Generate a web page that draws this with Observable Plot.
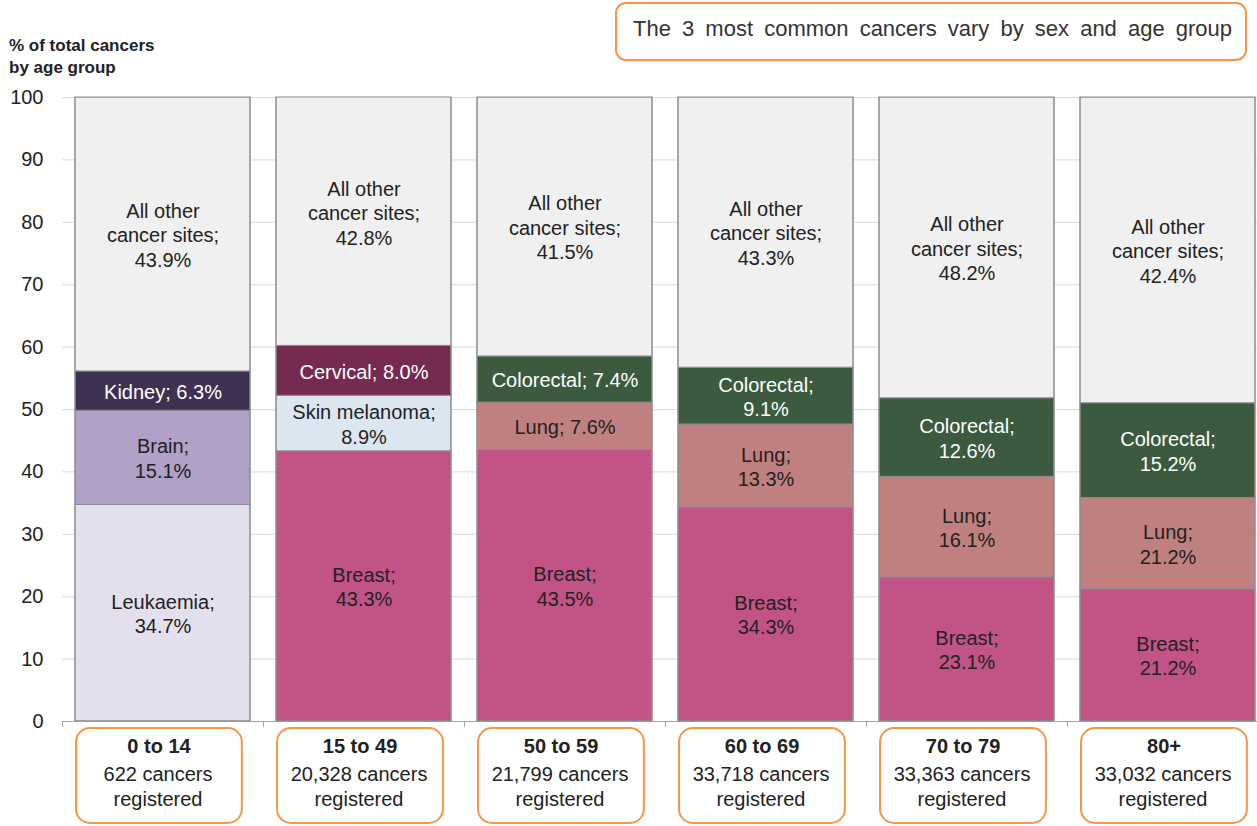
<!DOCTYPE html>
<html>
<head>
<meta charset="utf-8">
<script src="https://cdn.jsdelivr.net/npm/d3@7"></script>
<script src="https://cdn.jsdelivr.net/npm/@observablehq/plot@0.6"></script>
<style>
html, body { margin: 0; padding: 0; background: #fff; overflow: hidden; width: 1257px; height: 826px; }
body { position: relative; font-family: "Liberation Sans", Arial, sans-serif; color: #222; }
#chart { position: absolute; left: 0; top: 0; }
#chart svg { max-width: none !important; }
#ylabel { position: absolute; left: 9px; top: 35px; font-weight: bold; font-size: 17px; line-height: 22px; color: #222; }
#title { position: absolute; left: 615px; top: 2px; width: 632px; height: 59px; box-sizing: border-box;
  border: 2px solid #f79646; border-radius: 11px; font-size: 22px; padding: 12px 0 0 16px; color: #333; word-spacing: 5px; white-space: nowrap; }
</style>
</head>
<body>
<div id="chart"></div>
<div id="ylabel">% of total cancers<br>by age group</div>
<div id="title">The 3 most common cancers vary by sex and age group</div>
<script>
// ---- data ----
const ageGroups = ["0 to 14", "15 to 49", "50 to 59", "60 to 69", "70 to 79", "80+"];
const cancersRegistered = ["622", "20,328", "21,799", "33,718", "33,363", "33,032"];
const siteNames = [
  ["Leukaemia", "Brain", "Kidney", "All other cancer sites"],
  ["Breast", "Skin melanoma", "Cervical", "All other cancer sites"],
  ["Breast", "Lung", "Colorectal", "All other cancer sites"],
  ["Breast", "Lung", "Colorectal", "All other cancer sites"],
  ["Breast", "Lung", "Colorectal", "All other cancer sites"],
  ["Breast", "Lung", "Colorectal", "All other cancer sites"]
];
// percentages printed in the labels
const labelPct = [
  [34.7, 15.1, 6.3, 43.9],
  [43.3, 8.9, 8.0, 42.8],
  [43.5, 7.6, 7.4, 41.5],
  [34.3, 13.3, 9.1, 43.3],
  [23.1, 16.1, 12.6, 48.2],
  [21.2, 21.2, 15.2, 42.4]
];
// segment heights as drawn in the source chart
const barPct = [
  [34.7, 15.1, 6.3, 43.9],
  [43.3, 8.9, 8.0, 42.8],
  [43.5, 7.6, 7.4, 41.5],
  [34.3, 13.3, 9.1, 43.3],
  [23.1, 16.1, 12.6, 48.2],
  [21.2, 14.6, 15.2, 49.0]
];
const yTicks = [0, 10, 20, 30, 40, 50, 60, 70, 80, 90, 100];
const siteColors = {
  "Leukaemia": "#e4dfec",
  "Brain": "#b1a0c7",
  "Kidney": "#3f3151",
  "Breast": "#c25386",
  "Skin melanoma": "#dce6f1",
  "Cervical": "#762a4f",
  "Lung": "#c0807f",
  "Colorectal": "#3c5a3e",
  "All other cancer sites": "#f0f0f0"
};
const lightTextSites = ["Kidney", "Cervical", "Colorectal"];

// ---- build rows ----
const rows = [];
ageGroups.forEach((age, i) => {
  siteNames[i].forEach((site, j) => {
    const p = labelPct[i][j].toFixed(1) + "%";
    let label;
    if (site === "All other cancer sites") label = "All other\ncancer sites;\n" + p;
    else if (barPct[i][j] < 8.5) label = site + "; " + p;
    else label = site + ";\n" + p;
    rows.push({age, site, value: barPct[i][j], label});
  });
});

const FONT = '"Liberation Sans", Arial, sans-serif';

function boundaryTicks(index, scales, values, dimensions) {
  const x = scales.x, y = scales.y;
  const step = x(ageGroups[1]) - x(ageGroups[0]);
  const g = d3.create("svg:g").attr("stroke", "#a6a6a6").attr("stroke-width", 1);
  const y0 = y(0);
  for (let k = 0; k <= ageGroups.length; k++) {
    const px = Math.round(dimensions.marginLeft + k * step) + 0.5;
    g.append("line").attr("x1", px).attr("x2", px).attr("y1", y0).attr("y2", y0 + 6);
  }
  return g.node();
}

function ageBoxes(index, scales, values, dimensions) {
  const x = scales.x, y = scales.y;
  const step = x(ageGroups[1]) - x(ageGroups[0]);
  const bw = step * (1 - 0.13);
  const g = d3.create("svg:g").attr("fill", "#fff").attr("stroke", "#f79646").attr("stroke-width", 2);
  const top = y(0) + 7;
  ageGroups.forEach(a => {
    g.append("rect")
      .attr("x", x(a) + 1).attr("width", bw - 9)
      .attr("y", top).attr("height", dimensions.height - top - 3)
      .attr("rx", 14).attr("ry", 14);
  });
  return g.node();
}

const chart = Plot.plot({
  width: 1268,
  height: 826,
  marginTop: 97,
  marginBottom: 105,
  marginLeft: 62,
  marginRight: 0,
  style: {fontFamily: FONT, fontSize: "20px", color: "#222", background: "transparent", maxWidth: "none"},
  x: {domain: ageGroups, paddingInner: 0.13, paddingOuter: 0.065, axis: null},
  y: {domain: [0, 100], axis: null},
  color: {type: "identity"},
  marks: [
    Plot.gridY(yTicks, {stroke: "#d9d9d9", strokeOpacity: 1}),
    Plot.ruleY([0], {stroke: "#a6a6a6"}),
    boundaryTicks,
    Plot.barY(rows, {x: "age", y: "value", fill: d => siteColors[d.site], stroke: "#8c8c8c", strokeWidth: 1, clip: true}),
    Plot.barY(ageGroups, {x: d => d, y: () => 100, fill: "none", stroke: "#8c8c8c", strokeWidth: 1}),
    Plot.text(rows, Plot.stackY({
      x: "age", y: "value", text: "label",
      fill: d => lightTextSites.includes(d.site) ? "#ffffff" : "#222222",
      fontSize: 20, lineHeight: 1.22
    })),
    Plot.axisY({ticks: yTicks, tickSize: 0, tickPadding: 19, fontSize: 20, label: null, fill: "#222"}),
    ageBoxes,
    Plot.text(ageGroups, {x: d => d, text: d => d, frameAnchor: "bottom", lineAnchor: "middle", dy: 25, dx: -4, fontWeight: "bold", fontSize: 20}),
    Plot.text(ageGroups, {
      x: d => d, text: (d, i) => cancersRegistered[i] + " cancers\nregistered",
      frameAnchor: "bottom", dy: 63.5, dx: -5, lineAnchor: "middle", lineHeight: 1.25, fontSize: 20
    })
  ]
});
document.getElementById("chart").appendChild(chart);
</script>
</body>
</html>
